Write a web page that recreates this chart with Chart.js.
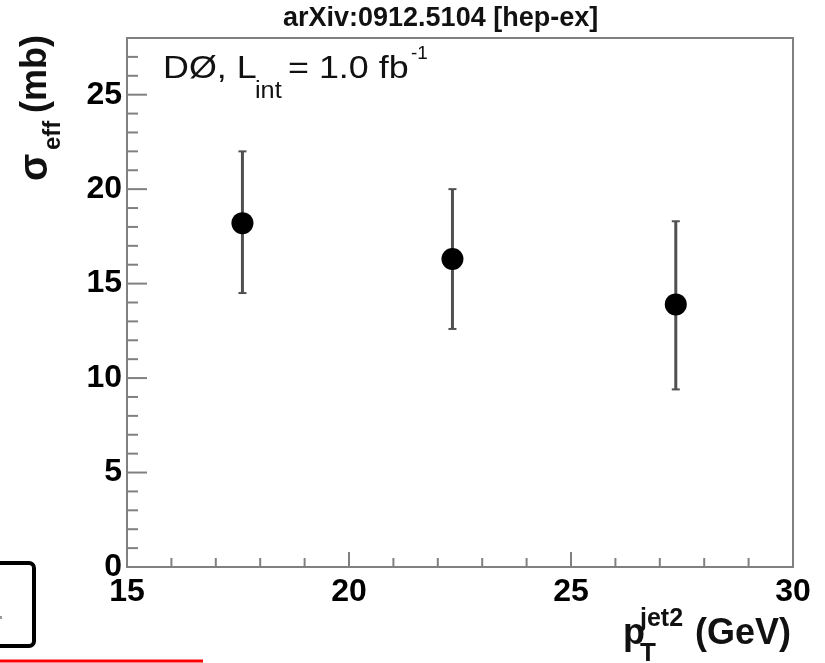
<!DOCTYPE html>
<html>
<head>
<meta charset="utf-8">
<script src="https://cdn.jsdelivr.net/npm/chart.js@4/dist/chart.umd.min.js"></script>
<style>
  html, body { margin: 0; padding: 0; background: #fff; }
  #wrap { width: 825px; height: 663px; }
</style>
</head>
<body>
<div id="wrap"><canvas id="c" width="825" height="663"></canvas></div>
<script>
// Effective cross section vs. second-jet pT
const ptJet2   = [17.6, 22.33, 27.36];
const sigmaEff = [18.2, 16.3, 13.9];
const errUp    = [3.8, 3.7, 4.4];
const errDown  = [3.7, 3.7, 4.5];

const xTickValues = [15, 20, 25, 30];
const yTickValues = [0, 5, 10, 15, 20, 25];
const xRange = [15, 30];
const yRange = [0, 28];
const minorStep = 1;

const titleText = 'arXiv:0912.5104 [hep-ex]';

const FONT = '"Liberation Sans", Arial, Helvetica, sans-serif';

function seg(ctx, x1, y1, x2, y2) {
  ctx.beginPath(); ctx.moveTo(x1, y1); ctx.lineTo(x2, y2); ctx.stroke();
}
// text with an optional horizontal stretch factor
function txt(ctx, s, x, y, size, weight, sx = 1) {
  ctx.save();
  ctx.translate(x, y);
  ctx.scale(sx, 1);
  ctx.font = `${weight} ${size}px ${FONT}`;
  ctx.fillText(s, 0, 0);
  ctx.restore();
}
function vtxt(ctx, s, x, y, size, weight) {
  ctx.save();
  ctx.translate(x, y);
  ctx.rotate(-Math.PI / 2);
  txt(ctx, s, 0, 0, size, weight);
  ctx.restore();
}

const rootStyle = {
  id: 'rootStyle',
  beforeDatasetsDraw(chart) {
    const { ctx, chartArea: a, scales: { x, y } } = chart;
    ctx.save();
    ctx.strokeStyle = '#808080';
    ctx.lineWidth = 2;
    ctx.strokeRect(a.left, a.top, a.right - a.left, a.bottom - a.top);

    // inward tick marks on the bottom and left axes
    for (let v = xRange[0]; v <= xRange[1] + 1e-9; v += minorStep) {
      const px = x.getPixelForValue(v);
      const len = (v % 5 === 0) ? 15 : 9;
      seg(ctx, px, a.bottom, px, a.bottom - len);
    }
    for (let v = yRange[0]; v <= yRange[1] + 1e-9; v += minorStep) {
      const py = y.getPixelForValue(v);
      const len = (v % 5 === 0) ? 20 : 11;
      seg(ctx, a.left, py, a.left + len, py);
    }

    // error bars
    ctx.strokeStyle = '#505050';
    for (let i = 0; i < ptJet2.length; i++) {
      const px = x.getPixelForValue(ptJet2[i]);
      const yt = y.getPixelForValue(sigmaEff[i] + errUp[i]);
      const yb = y.getPixelForValue(sigmaEff[i] - errDown[i]);
      ctx.lineWidth = 3;
      seg(ctx, px, yt, px, yb);
      ctx.lineWidth = 2;
      seg(ctx, px - 4, yt, px + 4, yt);
      seg(ctx, px - 4, yb, px + 4, yb);
    }
    ctx.restore();
  },
  afterDraw(chart) {
    const { ctx } = chart;
    ctx.save();
    ctx.fillStyle = '#111';
    ctx.textBaseline = 'alphabetic';
    ctx.textAlign = 'left';

    // title
    txt(ctx, titleText, 283, 26, 27, 'bold');

    // annotation
    txt(ctx, 'D\u00D8, L', 163, 78, 32, 'normal', 1.12);
    txt(ctx, 'int', 255, 98, 23, 'normal', 1.1);
    txt(ctx, '= 1.0 fb', 288, 78, 32, 'normal', 1.12);
    txt(ctx, '-1', 411, 59, 18, 'normal', 1.05);

    // x axis title
    txt(ctx, 'p', 623, 644, 36, 'bold');
    txt(ctx, 'jet2', 640, 626, 25, 'bold');
    txt(ctx, 'T', 640, 661, 26, 'bold');
    txt(ctx, '(GeV)', 695, 644, 36, 'bold');

    // y axis title
    vtxt(ctx, '\u03C3', 47, 181, 40, 'bold');
    vtxt(ctx, 'eff', 60, 150, 24, 'bold');
    vtxt(ctx, '(mb)', 46, 113, 36, 'bold');

    // frame fragments at the lower left
    ctx.strokeStyle = '#000';
    ctx.lineWidth = 4;
    ctx.beginPath();
    ctx.roundRect(-10, 563, 44, 83, 5);
    ctx.stroke();
    ctx.fillStyle = '#999';
    ctx.fillRect(0, 616, 2, 3);
    ctx.strokeStyle = '#ff0000';
    ctx.lineWidth = 3;
    seg(ctx, 0, 661, 203, 661);
    ctx.restore();
  }
};

const tickFont = { family: FONT, size: 32, weight: 'bold' };

new Chart(document.getElementById('c'), {
  type: 'scatter',
  data: {
    datasets: [{
      data: ptJet2.map((v, i) => ({ x: v, y: sigmaEff[i] })),
      pointRadius: 11,
      pointHoverRadius: 11,
      pointBackgroundColor: '#000',
      pointBorderColor: '#000',
      pointBorderWidth: 0,
      showLine: false
    }]
  },
  options: {
    responsive: false,
    animation: false,
    devicePixelRatio: 1,
    events: [],
    layout: { padding: { left: 0, top: 38, right: 32, bottom: 0 } },
    plugins: {
      legend: { display: false },
      tooltip: { enabled: false },
      title: { display: false }
    },
    scales: {
      x: {
        type: 'linear',
        min: xRange[0], max: xRange[1],
        grid: { display: false, drawTicks: false, tickLength: 0 },
        border: { display: false },
        afterBuildTicks: s => { s.ticks = xTickValues.map(v => ({ value: v })); },
        afterFit: s => { s.height = 96; },
        ticks: { font: tickFont, color: '#000', padding: 6, maxRotation: 0, minRotation: 0, autoSkip: false }
      },
      y: {
        type: 'linear',
        min: yRange[0], max: yRange[1],
        grid: { display: false, drawTicks: false, tickLength: 0 },
        border: { display: false },
        afterBuildTicks: s => { s.ticks = yTickValues.map(v => ({ value: v })); },
        afterFit: s => { s.width = 127; },
        ticks: { font: tickFont, color: '#000', padding: 5, autoSkip: false }
      }
    }
  },
  plugins: [rootStyle]
});
</script>
</body>
</html>
